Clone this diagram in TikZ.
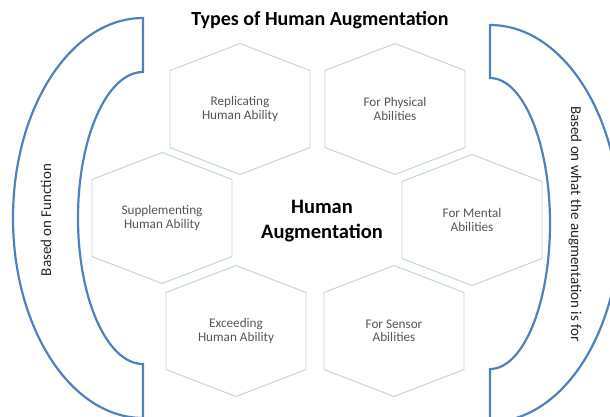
\documentclass[tikz,border=0pt]{standalone}
\usepackage{fontspec}
\setmainfont{Carlito}
\usetikzlibrary{positioning}
\definecolor{bracket}{RGB}{79,129,189}
\definecolor{cellline}{RGB}{192,210,218}
\definecolor{celltext}{RGB}{85,85,85}

\begin{document}
\begin{tikzpicture}[x=1pt,y=-1pt,
  every text node part/.style={align=center},
  cell/.style={text=celltext, inner sep=0pt, font=\fontsize{13.2}{13.5}\selectfont},
  hexline/.style={draw=cellline, line width=0.9pt},
  bracketline/.style={draw=bracket, line width=2.2pt},
  side/.style={text=black!85, inner sep=0pt, font=\fontsize{15}{17}\selectfont}]
  \useasboundingbox (0,0) rectangle (610,416);
  \clip (0,0) rectangle (610,416);
  % title
  \node (title) [font=\bfseries\fontsize{20}{22}\selectfont] at (320,20) {Types of Human Augmentation};
  % the six cells
  \node (rep) [cell] at (240,109) {Replicating\\Human Ability};
  \node (phy) [cell] at (395,109) {For Physical\\Abilities};
  \node (sup) [cell] at (162,218) {Supplementing\\Human Ability};
  \node (men) [cell] at (472,220) {For Mental\\Abilities};
  \node (exc) [cell] at (236,331) {Exceeding\\Human Ability};
  \node (sen) [cell] at (394,331) {For Sensor\\Abilities};
  \foreach \c in {rep,phy,sup,men,exc,sen}
    \draw[hexline, shift={(\c)}] (0,-65.5) -- (70,-38.5) -- (70,38.5) -- (0,65.5) -- (-70,38.5) -- (-70,-38.5) -- cycle;
  \node (core) [font=\bfseries\fontsize{20.5}{25}\selectfont] at (322,221) {Human\\Augmentation};
  % brackets
  \draw[bracketline] (143,18) arc[start angle=270, end angle=90, x radius=130, y radius=200]
    -- (143,364) arc[start angle=90, end angle=270, x radius=65, y radius=146] -- cycle;
  \draw[bracketline] (490,25) arc[start angle=270, end angle=450, x radius=130, y radius=198.5]
    -- (490,369) arc[start angle=90, end angle=-90, x radius=60, y radius=145.5] -- cycle;
  \node (func) [side, rotate=90] at (46,220) {Based on Function};
  \node (what) [side, rotate=-90] at (575,224) {Based on what the augmentation is for};
\end{tikzpicture}
\end{document}
